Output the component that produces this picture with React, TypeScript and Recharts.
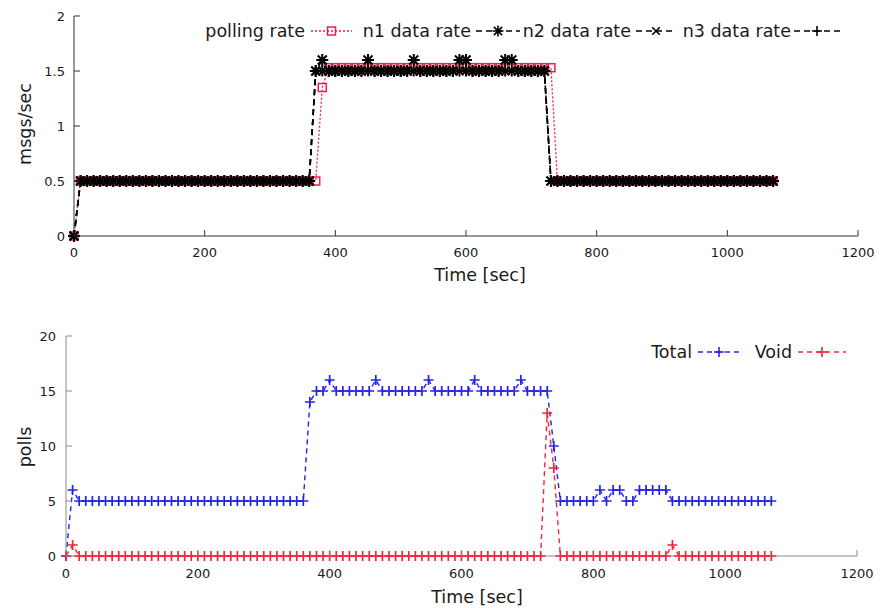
import React from "react";
import { LineChart, Line, XAxis, YAxis, Legend } from "recharts";

const FONT = "'DejaVu Sans', Verdana, sans-serif";
const RED = "#ec1f4e";
const VOID_RED = "#f2263a";
const BLUE = "#2323e6";
const INK = "#1a1a1a";

// sample times (sec)
const times = [
  0, 10, 20, 30, 40, 50, 60, 70, 80, 90,
  100, 110, 120, 130, 140, 150, 160, 170, 180, 190,
  200, 210, 220, 230, 240, 250, 260, 270, 280, 290,
  300, 310, 320, 330, 340, 350, 360, 370, 380, 390,
  400, 410, 420, 430, 440, 450, 460, 470, 480, 490,
  500, 510, 520, 530, 540, 550, 560, 570, 580, 590,
  600, 610, 620, 630, 640, 650, 660, 670, 680, 690,
  700, 710, 720, 730, 740, 750, 760, 770, 780, 790,
  800, 810, 820, 830, 840, 850, 860, 870, 880, 890,
  900, 910, 920, 930, 940, 950, 960, 970, 980, 990,
  1000, 1010, 1020, 1030, 1040, 1050, 1060, 1070,
];

// top chart: msgs/sec
const pollingRate = [
  0, 0.5, 0.5, 0.5, 0.5, 0.5, 0.5, 0.5, 0.5, 0.5,
  0.5, 0.5, 0.5, 0.5, 0.5, 0.5, 0.5, 0.5, 0.5, 0.5,
  0.5, 0.5, 0.5, 0.5, 0.5, 0.5, 0.5, 0.5, 0.5, 0.5,
  0.5, 0.5, 0.5, 0.5, 0.5, 0.5, 0.5, 0.5, 1.35, 1.53,
  1.53, 1.53, 1.53, 1.53, 1.53, 1.53, 1.53, 1.53, 1.53, 1.53,
  1.53, 1.53, 1.53, 1.53, 1.53, 1.53, 1.53, 1.53, 1.53, 1.53,
  1.53, 1.53, 1.53, 1.53, 1.53, 1.53, 1.53, 1.53, 1.53, 1.53,
  1.53, 1.53, 1.53, 1.53, 0.5, 0.5, 0.5, 0.5, 0.5, 0.5,
  0.5, 0.5, 0.5, 0.5, 0.5, 0.5, 0.5, 0.5, 0.5, 0.5,
  0.5, 0.5, 0.5, 0.5, 0.5, 0.5, 0.5, 0.5, 0.5, 0.5,
  0.5, 0.5, 0.5, 0.5, 0.5, 0.5, 0.5, 0.5,
];

const n1Rate = [
  0, 0.5, 0.5, 0.5, 0.5, 0.5, 0.5, 0.5, 0.5, 0.5,
  0.5, 0.5, 0.5, 0.5, 0.5, 0.5, 0.5, 0.5, 0.5, 0.5,
  0.5, 0.5, 0.5, 0.5, 0.5, 0.5, 0.5, 0.5, 0.5, 0.5,
  0.5, 0.5, 0.5, 0.5, 0.5, 0.5, 0.5, 1.5, 1.6, 1.5,
  1.5, 1.5, 1.5, 1.5, 1.5, 1.6, 1.5, 1.5, 1.5, 1.5,
  1.5, 1.5, 1.6, 1.5, 1.5, 1.5, 1.5, 1.5, 1.5, 1.6,
  1.6, 1.5, 1.5, 1.5, 1.5, 1.5, 1.6, 1.6, 1.5, 1.5,
  1.5, 1.5, 1.5, 0.5, 0.5, 0.5, 0.5, 0.5, 0.5, 0.5,
  0.5, 0.5, 0.5, 0.5, 0.5, 0.5, 0.5, 0.5, 0.5, 0.5,
  0.5, 0.5, 0.5, 0.5, 0.5, 0.5, 0.5, 0.5, 0.5, 0.5,
  0.5, 0.5, 0.5, 0.5, 0.5, 0.5, 0.5, 0.5,
];

const n2Rate = [
  0, 0.5, 0.5, 0.5, 0.5, 0.5, 0.5, 0.5, 0.5, 0.5,
  0.5, 0.5, 0.5, 0.5, 0.5, 0.5, 0.5, 0.5, 0.5, 0.5,
  0.5, 0.5, 0.5, 0.5, 0.5, 0.5, 0.5, 0.5, 0.5, 0.5,
  0.5, 0.5, 0.5, 0.5, 0.5, 0.5, 0.5, 1.5, 1.5, 1.5,
  1.5, 1.5, 1.5, 1.5, 1.5, 1.5, 1.5, 1.5, 1.5, 1.5,
  1.5, 1.5, 1.5, 1.5, 1.5, 1.5, 1.5, 1.5, 1.5, 1.5,
  1.5, 1.5, 1.5, 1.5, 1.5, 1.5, 1.5, 1.5, 1.5, 1.5,
  1.5, 1.5, 1.5, 0.5, 0.5, 0.5, 0.5, 0.5, 0.5, 0.5,
  0.5, 0.5, 0.5, 0.5, 0.5, 0.5, 0.5, 0.5, 0.5, 0.5,
  0.5, 0.5, 0.5, 0.5, 0.5, 0.5, 0.5, 0.5, 0.5, 0.5,
  0.5, 0.5, 0.5, 0.5, 0.5, 0.5, 0.5, 0.5,
];

const n3Rate = [
  0, 0.5, 0.5, 0.5, 0.5, 0.5, 0.5, 0.5, 0.5, 0.5,
  0.5, 0.5, 0.5, 0.5, 0.5, 0.5, 0.5, 0.5, 0.5, 0.5,
  0.5, 0.5, 0.5, 0.5, 0.5, 0.5, 0.5, 0.5, 0.5, 0.5,
  0.5, 0.5, 0.5, 0.5, 0.5, 0.5, 0.5, 1.5, 1.5, 1.5,
  1.5, 1.5, 1.5, 1.5, 1.5, 1.5, 1.5, 1.5, 1.5, 1.5,
  1.5, 1.5, 1.5, 1.5, 1.5, 1.5, 1.5, 1.5, 1.5, 1.5,
  1.5, 1.5, 1.5, 1.5, 1.5, 1.5, 1.5, 1.5, 1.5, 1.5,
  1.5, 1.5, 1.5, 0.5, 0.5, 0.5, 0.5, 0.5, 0.5, 0.5,
  0.5, 0.5, 0.5, 0.5, 0.5, 0.5, 0.5, 0.5, 0.5, 0.5,
  0.5, 0.5, 0.5, 0.5, 0.5, 0.5, 0.5, 0.5, 0.5, 0.5,
  0.5, 0.5, 0.5, 0.5, 0.5, 0.5, 0.5, 0.5,
];

// bottom chart: polls per sample
const totalPolls = [
  0, 6, 5, 5, 5, 5, 5, 5, 5, 5,
  5, 5, 5, 5, 5, 5, 5, 5, 5, 5,
  5, 5, 5, 5, 5, 5, 5, 5, 5, 5,
  5, 5, 5, 5, 5, 5, 5, 14, 15, 15,
  16, 15, 15, 15, 15, 15, 15, 16, 15, 15,
  15, 15, 15, 15, 15, 16, 15, 15, 15, 15,
  15, 15, 16, 15, 15, 15, 15, 15, 15, 16,
  15, 15, 15, 15, 10, 5, 5, 5, 5, 5,
  5, 6, 5, 6, 6, 5, 5, 6, 6, 6,
  6, 6, 5, 5, 5, 5, 5, 5, 5, 5,
  5, 5, 5, 5, 5, 5, 5, 5,
];

const voidPolls = [
  0, 1, 0, 0, 0, 0, 0, 0, 0, 0,
  0, 0, 0, 0, 0, 0, 0, 0, 0, 0,
  0, 0, 0, 0, 0, 0, 0, 0, 0, 0,
  0, 0, 0, 0, 0, 0, 0, 0, 0, 0,
  0, 0, 0, 0, 0, 0, 0, 0, 0, 0,
  0, 0, 0, 0, 0, 0, 0, 0, 0, 0,
  0, 0, 0, 0, 0, 0, 0, 0, 0, 0,
  0, 0, 0, 13, 8, 0, 0, 0, 0, 0,
  0, 0, 0, 0, 0, 0, 0, 0, 0, 0,
  0, 0, 1, 0, 0, 0, 0, 0, 0, 0,
  0, 0, 0, 0, 0, 0, 0, 0,
];

const xTicks = [0, 200, 400, 600, 800, 1000, 1200];
const rateTicks = [0, 0.5, 1, 1.5, 2];
const pollTicks = [0, 5, 10, 15, 20];

const rateData = times.map((t, i) => ({
  t,
  polling: pollingRate[i],
  n1: n1Rate[i],
  n2: n2Rate[i],
  n3: n3Rate[i],
}));

const pollData = times.map((t, i) => ({ t, total: totalPolls[i], void: voidPolls[i] }));

// gnuplot-ish point symbols
const Mark = ({ cx, cy, kind, color, size, weight = 1.6 }: any) => {
  if (cx == null || cy == null) return null;
  const r = size / 2;
  if (kind === "square") {
    return <rect x={cx - r} y={cy - r} width={size} height={size} fill="none" stroke={color} strokeWidth={1.5} />;
  }
  const plus = `M${cx - r},${cy}H${cx + r}M${cx},${cy - r}V${cy + r}`;
  const d = r * 0.75;
  const cross = `M${cx - d},${cy - d}L${cx + d},${cy + d}M${cx - d},${cy + d}L${cx + d},${cy - d}`;
  const path = kind === "plus" ? plus : kind === "cross" ? cross : plus + cross;
  return <path d={path} stroke={color} strokeWidth={weight} fill="none" />;
};

const dotOf = (kind: string, color: string, size: number, weight?: number) => (p: any) => (
  <Mark key={`${kind}-${color}-${p.index}`} cx={p.cx} cy={p.cy} kind={kind} color={color} size={size} weight={weight} />
);

const XTick = ({ x, y, payload, axisColor, gap }: any) => (
  <g>
    <line x1={x} y1={y} x2={x} y2={y - 6} stroke={axisColor} />
    <text x={x} y={y + gap} textAnchor="middle" dominantBaseline="central" fontSize={13} fill={INK} fontFamily={FONT}>
      {payload.value}
    </text>
  </g>
);

const YTick = ({ x, y, payload, axisColor, gap }: any) => (
  <g>
    <line x1={x} y1={y} x2={x + 6} y2={y} stroke={axisColor} />
    <text x={x - gap} y={y} textAnchor="end" dominantBaseline="central" fontSize={13} fill={INK} fontFamily={FONT}>
      {payload.value}
    </text>
  </g>
);

const AxisTitle = ({ x, y, text, vertical }: any) => (
  <text
    x={x}
    y={y}
    transform={vertical ? `rotate(-90 ${x} ${y})` : undefined}
    textAnchor="middle"
    dominantBaseline="central"
    fontSize={17.5}
    fill={INK}
    fontFamily={FONT}
  >
    {text}
  </text>
);

const LegendItem = ({ label, textEnd, x1, x2, y, color, dash, kind, size }: any) => (
  <g>
    <text x={textEnd} y={y} textAnchor="end" dominantBaseline="central" fontSize={17.5} fill={INK} fontFamily={FONT}>
      {label}
    </text>
    <line x1={x1} y1={y} x2={x2} y2={y} stroke={color} strokeWidth={1.5} strokeDasharray={dash} />
    <Mark cx={(x1 + x2) / 2} cy={y} kind={kind} color={color} size={size} />
  </g>
);

const TopLegend = () => (
  <svg width={881} height={50} style={{ display: "block" }}>
    <LegendItem label="polling rate" textEnd={305} x1={311} x2={352} y={31} color={RED} dash="2 2" kind="square" size={8} />
    <LegendItem label="n1 data rate" textEnd={471} x1={476} x2={520} y={31} color="#000" dash="6 4" kind="star" size={11} />
    <LegendItem label="n2 data rate" textEnd={631} x1={636} x2={676} y={31} color="#000" dash="6 4" kind="cross" size={10} />
    <LegendItem label="n3 data rate" textEnd={791} x1={794} x2={840} y={31} color="#000" dash="6 4" kind="plus" size={10} />
  </svg>
);

const BottomLegend = () => (
  <svg width={881} height={70} style={{ display: "block" }}>
    <LegendItem label="Total" textEnd={692} x1={698} x2={740} y={52} color={BLUE} dash="5 4" kind="plus" size={10} />
    <LegendItem label="Void" textEnd={792} x1={798} x2={846} y={52} color={VOID_RED} dash="5 4" kind="plus" size={10} />
  </svg>
);

export default function App() {
  const topAxis = "#333";
  const botAxis = "#8a8a8a";
  return (
    <div style={{ position: "absolute", left: 0, top: 0, width: 881, height: 608, background: "#fff", overflow: "hidden" }}>
      <div style={{ position: "absolute", left: 0, top: 0 }}>
        <LineChart width={881} height={300} data={rateData} margin={{ top: 16, right: 23, bottom: 14, left: 0 }}>
          <XAxis
            dataKey="t"
            type="number"
            domain={[0, 1200]}
            ticks={xTicks}
            height={50}
            tickSize={0}
            tickMargin={0}
            stroke={topAxis}
            tick={<XTick axisColor={topAxis} gap={16} />}
            label={{ content: () => <AxisTitle x={480} y={275} text="Time [sec]" /> }}
          />
          <YAxis
            type="number"
            domain={[0, 2]}
            ticks={rateTicks}
            width={74}
            tickSize={0}
            tickMargin={0}
            stroke={topAxis}
            tick={<YTick axisColor={topAxis} gap={9} />}
            label={{ content: () => <AxisTitle x={25} y={124} text="msgs/sec" vertical /> }}
          />
          <Legend
            layout="horizontal"
            verticalAlign="middle"
            align="center"
            wrapperStyle={{ left: 0, top: 0, width: 881, height: 50 }}
            content={() => <TopLegend />}
          />
          <Line dataKey="polling" name="polling rate" stroke={RED} strokeWidth={1.3} strokeDasharray="2 2" dot={dotOf("square", RED, 8)} activeDot={false} isAnimationActive={false} />
          <Line dataKey="n1" name="n1 data rate" stroke="#000" strokeWidth={1.6} strokeDasharray="6 4" dot={dotOf("star", "#000", 12, 2)} activeDot={false} isAnimationActive={false} />
          <Line dataKey="n2" name="n2 data rate" stroke="#000" strokeWidth={1.6} strokeDasharray="6 4" dot={dotOf("cross", "#000", 11, 2)} activeDot={false} isAnimationActive={false} />
          <Line dataKey="n3" name="n3 data rate" stroke="#000" strokeWidth={1.6} strokeDasharray="6 4" dot={dotOf("plus", "#000", 11, 2)} activeDot={false} isAnimationActive={false} />
        </LineChart>
      </div>
      <div style={{ position: "absolute", left: 0, top: 300 }}>
        <LineChart width={881} height={308} data={pollData} margin={{ top: 36, right: 24, bottom: 12, left: 0 }}>
          <XAxis
            dataKey="t"
            type="number"
            domain={[0, 1200]}
            ticks={xTicks}
            height={40}
            tickSize={0}
            tickMargin={0}
            stroke={botAxis}
            tick={<XTick axisColor={botAxis} gap={17} />}
            label={{ content: () => <AxisTitle x={477} y={297} text="Time [sec]" /> }}
          />
          <YAxis
            type="number"
            domain={[0, 20]}
            ticks={pollTicks}
            width={66}
            tickSize={0}
            tickMargin={0}
            stroke={botAxis}
            tick={<YTick axisColor={botAxis} gap={10} />}
            label={{ content: () => <AxisTitle x={25} y={147} text="polls" vertical /> }}
          />
          <Legend
            layout="horizontal"
            verticalAlign="middle"
            align="center"
            wrapperStyle={{ left: 0, top: 0, width: 881, height: 70 }}
            content={() => <BottomLegend />}
          />
          <Line dataKey="total" name="Total" stroke={BLUE} strokeWidth={1.4} strokeDasharray="5 4" dot={dotOf("plus", BLUE, 10, 1.7)} activeDot={false} isAnimationActive={false} />
          <Line dataKey="void" name="Void" stroke={VOID_RED} strokeWidth={1.4} strokeDasharray="5 4" dot={dotOf("plus", VOID_RED, 10, 1.7)} activeDot={false} isAnimationActive={false} />
        </LineChart>
      </div>
    </div>
  );
}
